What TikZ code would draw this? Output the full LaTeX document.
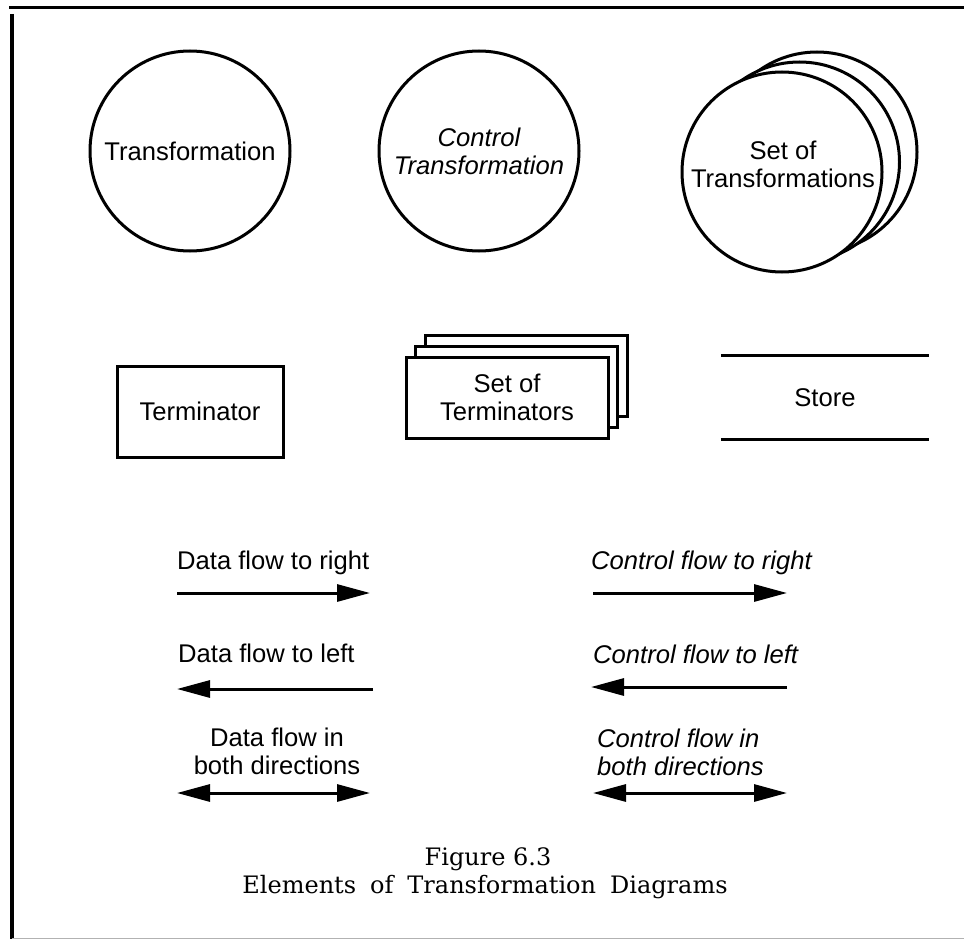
\documentclass[tikz,border=0pt]{standalone}
\usepackage{fontspec}
\setmainfont{Liberation Sans}
\newfontfamily\capfont{DejaVu Serif}
\usetikzlibrary{arrows.meta}

\begin{document}
\begin{tikzpicture}[
  x=1pt, y=-1pt,
  txt/.style={font=\fontsize{25.6}{28}\selectfont, inner sep=0pt,
              align=center},
  itxt/.style={txt, font=\fontsize{25.6}{28}\selectfont\itshape},
  bub/.style={txt, draw=black, line width=3pt, circle,
              minimum size=200pt, fill=white},
  term/.style={txt, draw=black, line width=3pt, rectangle, fill=white},
  flow/.style={line width=3pt, -{Triangle[length=33pt, width=17pt]}},
  flows/.style={line width=3pt,
                {Triangle[length=33pt, width=17pt]}-{Triangle[length=33pt, width=17pt]}},
  figtxt/.style={font=\capfont\fontsize{24}{29}\selectfont, inner sep=0pt},
]
\useasboundingbox (0,0) rectangle (964,939);
% Frame
\draw[line width=3pt] (9,8) -- (964,8);
\draw[line width=4pt] (12,14) -- (12,939);
\draw[black!30, line width=1pt] (12,938) -- (964,938);
% Transformations
\node[bub] (trans) at (190,151) {Transformation};
\node[bub, font=\fontsize{25.6}{28}\selectfont\itshape] (ctrl) at (479,151)
  {Control\\Transformation};
\foreach \k in {2,1}
  \node[bub] (tset\k) at (782+17.5*\k, 172-10*\k) {};
\node[bub] (tset) at (782,172) {};
\node[txt] (tsetlbl) at (783,164) {Set of\\Transformations};
% Terminators and store
\node[term, minimum width=166pt, minimum height=91pt] (term) at (200,411.5)
  {Terminator};
\foreach \k in {2,1}
  \node[term, minimum width=202pt, minimum height=81pt] (tms\k)
    at (507+9.5*\k, 397.5-11*\k) {};
\node[term, minimum width=202pt, minimum height=81pt] (tms) at (507,397.5)
  {Set of\\Terminators};
\node[txt, minimum width=208pt, minimum height=83pt] (store) at (825,397.5)
  {Store};
\draw[line width=3pt] (store.north west) -- (store.north east);
\draw[line width=3pt] (store.south west) -- (store.south east);
% Flow end points
\foreach \nm/\xa/\xb/\yy in {dr/177/370/593, dl/373/177/689, db/177/370/793,
                             cr/593/787/593, cl/787/591/687, cb/593/787/793} {
  \coordinate (\nm a) at (\xa,\yy);
  \coordinate (\nm b) at (\xb,\yy);
}
% Data flows
\node[txt, anchor=base west] (drl) at (177,569) {Data flow to right};
\draw[flow] (dra) -- (drb);
\node[txt, anchor=base west] (dll) at (178,662) {Data flow to left};
\draw[flow] (dla) -- (dlb);
\node[txt, anchor=north] (dbl) at (277,728) {Data flow in\\both directions};
\draw[flows] (dba) -- (dbb);
% Control flows
\node[itxt, anchor=base west] (crl) at (591,569) {Control flow to right};
\draw[flow] (cra) -- (crb);
\node[itxt, anchor=base west] (cll) at (593,663) {Control flow to left};
\draw[flow] (cla) -- (clb);
\node[itxt, align=left, anchor=north west] (cbl) at (597,729)
  {Control flow in\\both directions};
\draw[flows] (cba) -- (cbb);
% Caption
\node[figtxt, anchor=base] (figno) at (488,865) {Figure 6.3};
\node[figtxt, anchor=base] (figttl) at (485,893)
  {\spaceskip=14pt\relax Elements of Transformation Diagrams};
\end{tikzpicture}
\end{document}
